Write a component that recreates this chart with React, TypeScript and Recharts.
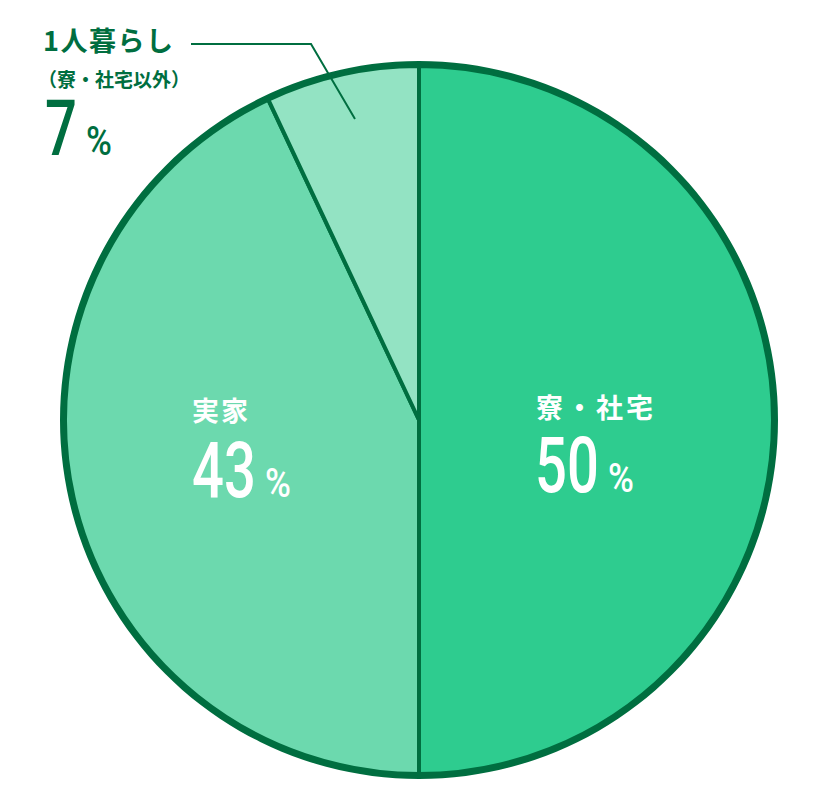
import { PieChart, Pie, Cell } from 'recharts';

const categories = ['寮・社宅', '実家', '1人暮らし'];
const shares = [50, 43, 7];
const colors = ['#2ecc8f', '#6cd9ae', '#93e3c3'];
const border = '#006e40';

const data = categories.map((name, i) => ({ name, value: shares[i] }));
const ring = [{ name: 'all', value: 100 }];

const jp = '"Noto Sans CJK JP", "Noto Sans", sans-serif';
const num = 'Roboto, "Liberation Sans", sans-serif';

// big number + small percent sign, both horizontally squeezed
function Pct({ x, y, value, fill }: { x: number; y: number; value: number; fill: string }) {
  const digits = String(value);
  const w = digits.length * 32;
  return (
    <g>
      <text transform={`translate(${x},${y}) scale(0.72,1)`} fontFamily={num} fontWeight={500} fontSize={78} fill={fill}>
        {digits}
      </text>
      <text transform={`translate(${x + w + 9},${y}) scale(0.88,1)`} fontFamily={num} fontWeight={500} fontSize={40} fill={fill}>
        %
      </text>
    </g>
  );
}

export default function App() {
  return (
    <div style={{ width: 840, height: 800, position: 'relative' }}>
      <style>{`body{margin:0}`}</style>
      <PieChart width={840} height={800} margin={{ top: 0, right: 0, bottom: 0, left: 0 }}>
        <Pie data={ring} dataKey="value" cx={419} cy={420} outerRadius={359} startAngle={90} endAngle={-270}
          fill={border} stroke="none" isAnimationActive={false} />
        <Pie data={data} dataKey="value" nameKey="name" cx={419} cy={420} outerRadius={354}
          startAngle={90} endAngle={-270} stroke={border} strokeWidth={4} isAnimationActive={false}>
          {data.map((_, i) => (
            <Cell key={`cell-${i}`} fill={colors[i]} />
          ))}
        </Pie>
      </PieChart>
      <svg width={840} height={800} style={{ position: 'absolute', left: 0, top: 0, pointerEvents: 'none' }}>
        <text x={536} y={418} fontFamily={jp} fontWeight={700} fontSize={27} fill="#fff" letterSpacing={3}>
          寮・社宅
        </text>
        <Pct x={535} y={492} value={shares[0]} fill="#fff" />
        <text x={192} y={421} fontFamily={jp} fontWeight={700} fontSize={27} fill="#fff" letterSpacing={2}>
          実家
        </text>
        <Pct x={192} y={497} value={shares[1]} fill="#fff" />
        <text x={43} y={51} fontFamily={jp} fontWeight={700} fontSize={27} fill={border} letterSpacing={1.5}>
          1人暮らし
        </text>
        <text x={38} y={87} fontFamily={jp} fontWeight={700} fontSize={19} fill={border}>
          （寮・社宅以外）
        </text>
        <Pct x={45} y={155} value={shares[2]} fill={border} />
        <polyline points="191,44 311,44 355,119" fill="none" stroke={border} strokeWidth={2} />
      </svg>
    </div>
  );
}
